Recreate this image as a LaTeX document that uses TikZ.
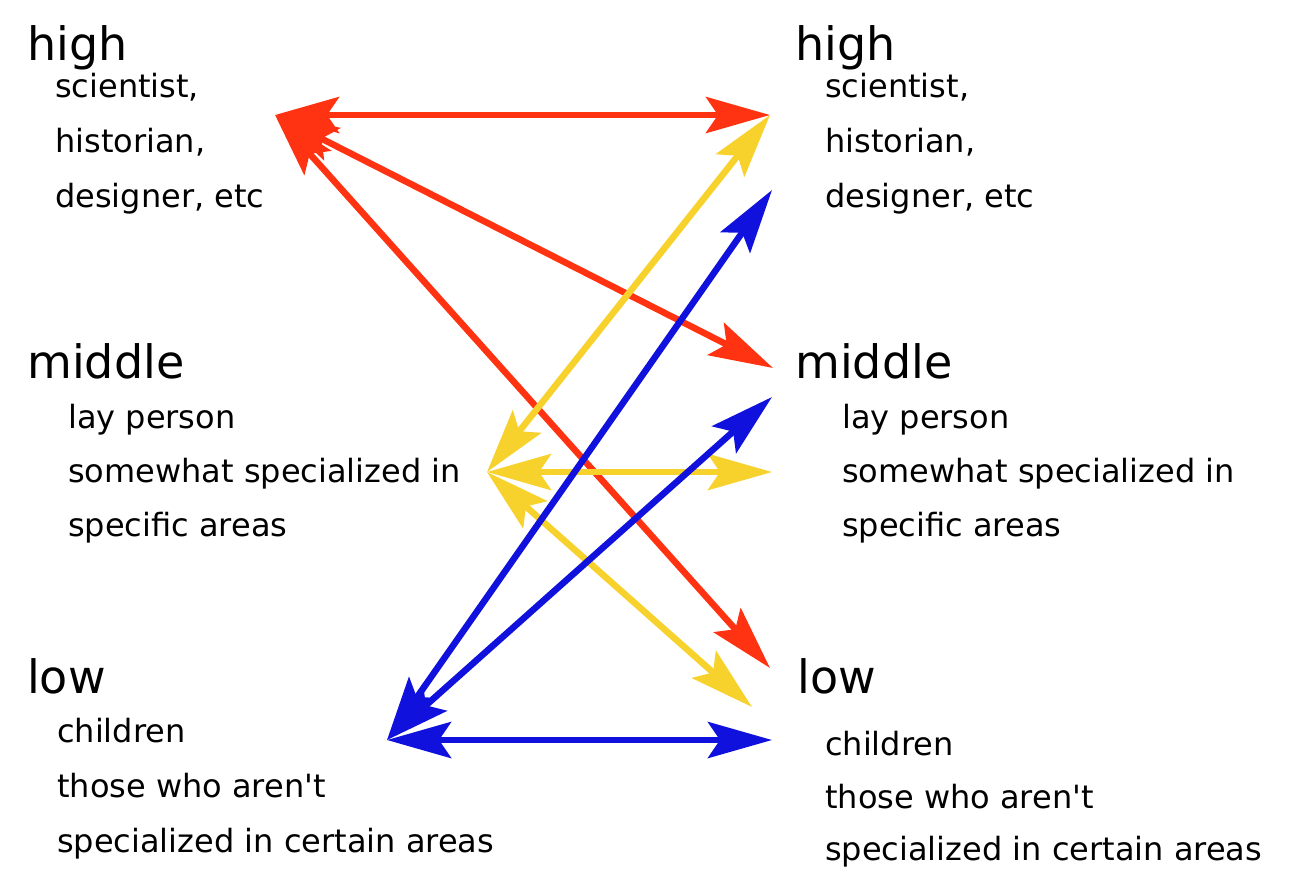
\documentclass[tikz,border=0pt]{standalone}
\usepackage{fontspec}
\setmainfont{DejaVu Sans}
\usetikzlibrary{arrows.meta}
\definecolor{linkred}{HTML}{FF3311}
\definecolor{linkyellow}{HTML}{F8D22C}
\definecolor{linkblue}{HTML}{1111DD}
\begin{document}
\begin{tikzpicture}[x=1pt,y=-1pt,level/.style={anchor=base west,inner sep=0pt,font=\fontsize{46}{46}\selectfont},item/.style={anchor=base west,inner sep=0pt,font=\fontsize{32}{32}\selectfont},link/.style={{Stealth[length=64pt,width=36pt,inset=12pt]}-{Stealth[length=64pt,width=36pt,inset=12pt]},line width=6.5pt}]
\useasboundingbox (0,0) rectangle (1297,871);
% left column
\node[level] (lhigh) at (27,60) {high};
\node[item] (lh1) at (55,97) {scientist,};
\node[item] (lh2) at (55,152) {historian,};
\node[item] (lh3) at (55,207) {designer, etc};
\node[level] (lmid) at (27,378) {middle};
\node[item] (lm1) at (68,428) {lay person};
\node[item] (lm2) at (68,482) {somewhat specialized in};
\node[item] (lm3) at (68,536) {specific areas};
\node[level] (llow) at (27,693) {low};
\node[item] (ll1) at (57,742) {children};
\node[item] (ll2) at (57,797) {those who aren\textquotesingle t};
\node[item] (ll3) at (57,852) {specialized in certain areas};
% right column
\node[level] (rhigh) at (795,60) {high};
\node[item] (rh1) at (825,97) {scientist,};
\node[item] (rh2) at (825,152) {historian,};
\node[item] (rh3) at (825,207) {designer, etc};
\node[level] (rmid) at (795,378) {middle};
\node[item] (rm1) at (842,428) {lay person};
\node[item] (rm2) at (842,482) {somewhat specialized in};
\node[item] (rm3) at (842,536) {specific areas};
\node[level] (rlow) at (797,693) {low};
\node[item] (rl1) at (825,755) {children};
\node[item] (rl2) at (825,808) {those who aren\textquotesingle t};
\node[item] (rl3) at (825,860) {specialized in certain areas};
% arrow ends
\coordinate (phigh) at (275,115);
\coordinate (pmid) at (487,472);
\coordinate (plow) at (387,740);
\coordinate (qhighA) at (770,115);
\coordinate (qhighB) at (772,190);
\coordinate (qmidA) at (773,368);
\coordinate (qmidB) at (772,397);
\coordinate (qmidC) at (772,472);
\coordinate (qlowA) at (770,668);
\coordinate (qlowB) at (752,707);
\coordinate (qlowC) at (772,740);
% links
\draw[link,linkred] (phigh) -- (qhighA);
\draw[link,linkred] (phigh) -- (qmidA);
\draw[link,linkred] (phigh) -- (qlowA);
\draw[link,linkyellow] (pmid) -- (qhighA);
\draw[link,linkyellow] (pmid) -- (qmidC);
\draw[link,linkyellow] (pmid) -- (qlowB);
\draw[link,linkblue] (plow) -- (qhighB);
\draw[link,linkblue] (plow) -- (qmidB);
\draw[link,linkblue] (plow) -- (qlowC);
\end{tikzpicture}
\end{document}
